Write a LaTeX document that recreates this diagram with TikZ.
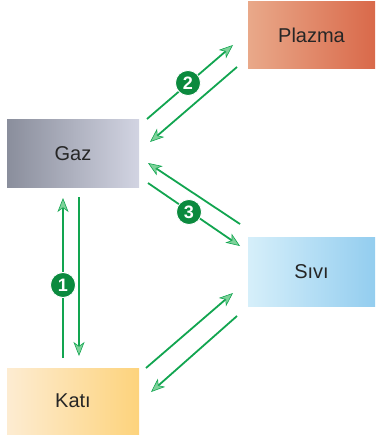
\documentclass[tikz,border=0pt]{standalone}
\usepackage{fontspec}
\setmainfont{Liberation Sans}
\usetikzlibrary{arrows.meta}
\definecolor{arrgreen}{HTML}{12A550}
\definecolor{tipgreen}{HTML}{7ED29A}
\definecolor{badgegreen}{HTML}{0B8A3E}
\definecolor{gazL}{HTML}{8A8E9C}
\definecolor{gazR}{HTML}{D2D4E2}
\definecolor{plaL}{HTML}{E9A98A}
\definecolor{plaR}{HTML}{D9694A}
\definecolor{katL}{HTML}{FDECD2}
\definecolor{katR}{HTML}{FDD37C}
\definecolor{sivL}{HTML}{D6EFFA}
\definecolor{sivR}{HTML}{93CDEF}
\tikzset{
  statebox/.style={rectangle, inner sep=0pt, font=\fontsize{20}{24}\selectfont, text=black!85},
  flow/.style={draw=arrgreen, line width=1.8pt,
    -{Stealth[length=14pt,width=11pt,inset=4pt,fill=tipgreen,line width=0.6pt]}},
  badge/.style={circle, fill=badgegreen, draw=white, line width=0.8pt, minimum size=25pt, inner sep=0pt,
    text=white, font=\bfseries\fontsize{18}{18}\selectfont},
}
\begin{document}
\begin{tikzpicture}[x=1pt,y=-1pt]
\useasboundingbox (0,0) rectangle (375,438);
\node[statebox, minimum width=132pt, minimum height=68pt, left color=gazL, right color=gazR] (gaz) at (73,154) {Gaz};
\node[statebox, minimum width=127pt, minimum height=67pt, left color=plaL, right color=plaR] (plazma) at (311.5,35.5) {Plazma};
\node[statebox, minimum width=132pt, minimum height=66pt, left color=katL, right color=katR] (kati) at (73,401) {Katı};
\node[statebox, minimum width=127pt, minimum height=69pt, left color=sivL, right color=sivR] (sivi) at (311.5,271.5) {Sıvı};
% coordinates
\coordinate (a2s) at (147,119); \coordinate (a2e) at (233,45);
\coordinate (b2s) at (237,67);  \coordinate (b2e) at (150,142);
\coordinate (a3s) at (240,224); \coordinate (a3e) at (148,163);
\coordinate (b3s) at (148,183); \coordinate (b3e) at (240,246);
\coordinate (a1s) at (63,358);  \coordinate (a1e) at (63,198);
\coordinate (b1s) at (79,197);  \coordinate (b1e) at (79,356);
\coordinate (a4s) at (146,368); \coordinate (a4e) at (233,293);
\coordinate (b4s) at (237,316); \coordinate (b4e) at (151,392);
\draw[flow] (a2s) -- (a2e);
\draw[flow] (b2s) -- (b2e);
\draw[flow] (a3s) -- (a3e);
\draw[flow] (b3s) -- (b3e);
\draw[flow] (a1s) -- (a1e);
\draw[flow] (b1s) -- (b1e);
\draw[flow] (a4s) -- (a4e);
\draw[flow] (b4s) -- (b4e);
\node[badge] (n1) at (63,285) {1};
\node[badge] (n2) at (188,83) {2};
\node[badge] (n3) at (189,212) {3};
\end{tikzpicture}
\end{document}
